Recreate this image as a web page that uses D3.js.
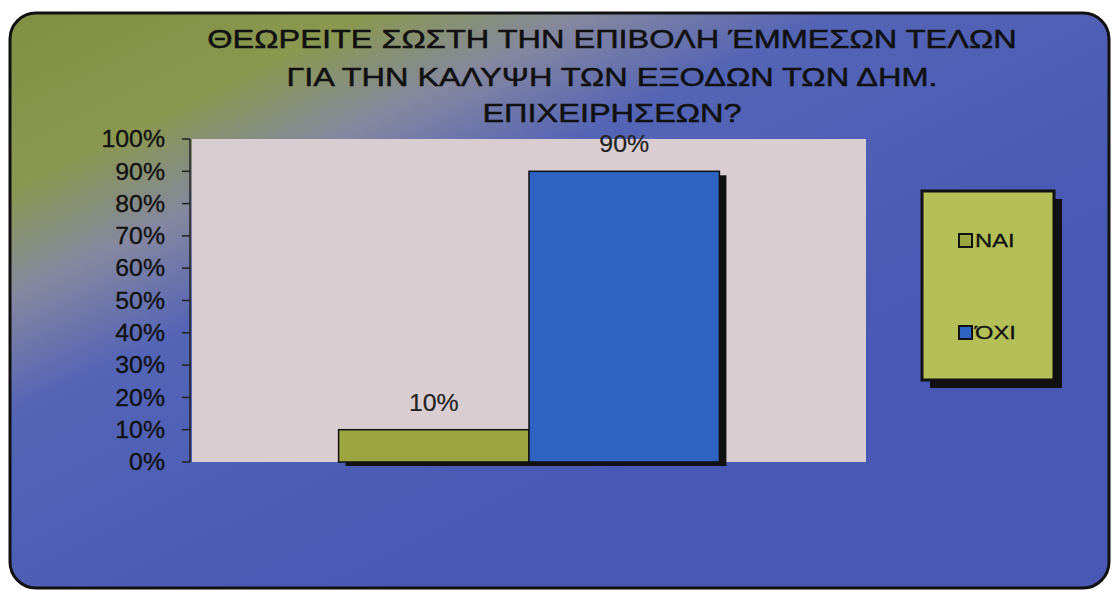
<!DOCTYPE html>
<html><head><meta charset="utf-8">
<script src="https://cdn.jsdelivr.net/npm/d3@7"></script>
<style>body{margin:0;background:#fff}svg{display:block}text{font-family:"Liberation Sans",Arial,sans-serif}</style>
</head><body><svg id="c" width="1113" height="590"></svg>
<script>
const titleLines = ["ΘΕΩΡΕΙΤΕ ΣΩΣΤΗ ΤΗΝ ΕΠΙΒΟΛΗ ΈΜΜΕΣΩΝ ΤΕΛΩΝ","ΓΙΑ ΤΗΝ ΚΑΛΥΨΗ ΤΩΝ ΕΞΟΔΩΝ ΤΩΝ ΔΗΜ.","ΕΠΙΧΕΙΡΗΣΕΩΝ?"];
const category = [""];
const seriesNames = ["ΝΑΙ","ΌΧΙ"];
const seriesValues = [0.10, 0.90];
const seriesColors = ["#9ba640","#2f63c3"];
const yTicks = [0,0.1,0.2,0.3,0.4,0.5,0.6,0.7,0.8,0.9,1.0];

const svg = d3.select("#c");
const defs = svg.append("defs");
const g = defs.append("linearGradient").attr("id","bg").attr("gradientUnits","userSpaceOnUse")
  .attr("x1",0).attr("y1",0).attr("x2",307).attr("y2",629);
[[0,"#808f42"],[0.25,"#8a9850"],[0.39,"#8487a0"],[0.54,"#5464b6"],[1,"#4858b4"]].forEach(([o,c])=>
  g.append("stop").attr("offset",o).attr("stop-color",c));

svg.append("rect").attr("x",10).attr("y",13).attr("width",1099).attr("height",575)
  .attr("rx",26).attr("fill","url(#bg)").attr("stroke","#111").attr("stroke-width",3);

function stretchText(sel, x, y, anchor, sx){
  sel.attr("text-anchor",anchor).attr("transform",`translate(${x},${y}) scale(${sx},1)`);
}

// title
titleLines.forEach((t,i)=>{
  svg.append("text").text(t).attr("font-size",26).attr("fill","#111")
    .attr("stroke","#111").attr("stroke-width",0.5)
    .call(s=>stretchText(s,612,[48,86,122][i],"middle",1.25));
});

const plot = {x0:192, x1:866, y0:139, y1:462};
const y = d3.scaleLinear().domain([0,1]).range([plot.y1, plot.y0]);
const x0 = d3.scaleBand().domain(category).range([plot.x0, plot.x1]).paddingInner(0).paddingOuter(0.385);
const x1 = d3.scaleBand().domain(seriesNames).range([0, x0.bandwidth()]);

svg.append("rect").attr("x",plot.x0).attr("y",plot.y0).attr("width",plot.x1-plot.x0).attr("height",plot.y1-plot.y0)
  .attr("fill","#d9cdd1");

// axis
const axG = svg.append("g").attr("transform",`translate(${plot.x0-2},0)`);
axG.append("line").attr("y1",plot.y0).attr("y2",plot.y1).attr("stroke","#222").attr("stroke-width",1.5);
yTicks.forEach(v=>{
  axG.append("line").attr("x1",-8).attr("x2",0).attr("y1",y(v)).attr("y2",y(v)).attr("stroke","#222").attr("stroke-width",1.5);
  axG.append("text").text(d3.format(".0%")(v)).attr("font-size",23).attr("fill","#111")
    .attr("stroke","#111").attr("stroke-width",0.3)
    .attr("dy","0.36em").call(s=>stretchText(s,-25,y(v),"end",1.08));
});

// bars
const bars = svg.append("g");
seriesNames.forEach((n,i)=>{
  const bx = x0(category[0]) + x1(n), bw = x1.bandwidth(), by = y(seriesValues[i]), bh = y(0)-y(seriesValues[i]);
  bars.append("rect").attr("x",bx+7).attr("y",by+4).attr("width",bw).attr("height",bh).attr("fill","#111");
});
seriesNames.forEach((n,i)=>{
  const bx = x0(category[0]) + x1(n), bw = x1.bandwidth(), by = y(seriesValues[i]), bh = y(0)-y(seriesValues[i]);
  bars.append("rect").attr("x",bx).attr("y",by).attr("width",bw).attr("height",bh)
    .attr("fill",seriesColors[i]).attr("stroke","#111").attr("stroke-width",1.5);
  bars.append("text").text(d3.format(".0%")(seriesValues[i])).attr("font-size",23).attr("fill","#222")
    .attr("stroke","#222").attr("stroke-width",0.2)
    .call(s=>stretchText(s,bx+bw/2,by-19,"middle",1.08));
});

// legend
const lg = svg.append("g");
lg.append("rect").attr("x",930).attr("y",199).attr("width",132).attr("height",189).attr("fill","#111");
lg.append("rect").attr("x",922).attr("y",191).attr("width",132).attr("height",189)
  .attr("fill","#b4bf58").attr("stroke","#111").attr("stroke-width",3);
seriesNames.forEach((n,i)=>{
  const ly = [240,332][i];
  lg.append("rect").attr("x",959).attr("y",ly-6).attr("width",13).attr("height",13)
    .attr("fill",seriesColors[i]).attr("stroke","#111").attr("stroke-width",2);
  lg.append("text").text(n).attr("font-size",19).attr("fill","#111").attr("dy","0.36em")
    .attr("stroke","#111").attr("stroke-width",0.3)
    .call(s=>stretchText(s,975,ly,"start",1.25));
});
</script></body></html>
